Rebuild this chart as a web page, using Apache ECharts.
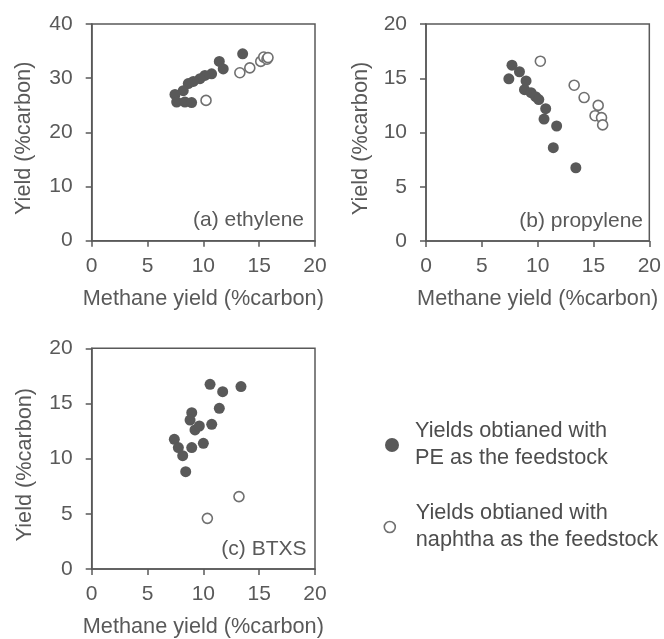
<!DOCTYPE html>
<html>
<head>
<meta charset="utf-8">
<script src="https://cdn.jsdelivr.net/npm/echarts@6/dist/echarts.min.js"></script>
<style>
  html, body { margin: 0; padding: 0; background: #fff; }
  #chart { width: 664px; height: 639px; }
</style>
</head>
<body>
<div id="chart"></div>
<script>
// Methane yield (x) and product yields (y), all in %carbon.
// (a) ethylene
const methanePE_a   = [13.52, 11.43, 11.78, 10.74, 10.14, 9.70, 9.10, 8.65, 8.20, 7.46, 7.61, 8.35, 8.95];
const ethylenePE    = [34.5, 33.1, 31.7, 30.8, 30.5, 29.9, 29.4, 29.0, 27.7, 27.0, 25.6, 25.6, 25.5];
const methaneNap_a  = [10.24, 13.27, 14.16, 15.14, 15.41, 15.70, 15.79];
const ethyleneNap   = [25.9, 31.0, 31.9, 33.1, 33.9, 33.5, 33.8];

// (b) propylene
const methanePE_b   = [7.42, 7.70, 8.37, 8.96, 8.82, 9.41, 9.82, 10.10, 10.72, 10.57, 11.70, 11.40, 13.42];
const propylenePE   = [14.95, 16.2, 15.6, 14.75, 13.95, 13.67, 13.3, 13.03, 12.2, 11.24, 10.6, 8.6, 6.75];
const methaneNap_b  = [10.24, 13.27, 14.16, 15.42, 15.14, 15.72, 15.82];
const propyleneNap  = [16.57, 14.36, 13.22, 12.5, 11.55, 11.37, 10.7];

// (c) BTXS
const methanePE_c   = [7.40, 7.76, 8.15, 8.42, 8.96, 8.81, 8.96, 9.25, 9.64, 10.00, 10.75, 10.60, 11.73, 11.43, 13.37];
const btxsPE        = [11.75, 11.0, 10.27, 8.82, 14.17, 13.5, 11.0, 12.6, 12.96, 11.39, 13.11, 16.74, 16.07, 14.56, 16.53];
const methaneNap_c  = [10.36, 13.19];
const btxsNap       = [4.59, 6.56];

const xTicks = { min: 0, max: 20, interval: 5 };
const yTicksA = { min: 0, max: 40, interval: 10 };
const yTicksBC = { min: 0, max: 20, interval: 5 };

const panelLabels = ['(a) ethylene', '(b) propylene', '(c) BTXS'];
const xTitle = 'Methane yield (%carbon)';
const yTitle = 'Yield (%carbon)';
const legendPE = ['Yields obtianed with', 'PE as the feedstock'];
const legendNap = ['Yields obtianed with', 'naphtha as the feedstock'];

const FONT = "'Liberation Sans', Arial, sans-serif";
const GREY = '#595959';

function pairs(xs, ys) { return xs.map((x, i) => [x, ys[i]]); }

const grids = [
  { left: 91.7, top: 24, width: 223.3, height: 216.7 },
  { left: 426, top: 24, width: 224.7, height: 217 },
  { left: 91.7, top: 348.3, width: 223.3, height: 220.7 }
].map(g => Object.assign(g, { show: true, borderColor: GREY, borderWidth: 1.5, backgroundColor: 'transparent' }));

function xAxis(i) {
  return Object.assign({
    type: 'value', gridIndex: i,
    name: xTitle, nameLocation: 'middle', nameGap: 47,
    nameTextStyle: { fontFamily: FONT, fontSize: 21.7, color: GREY },
    axisLine: { show: true, lineStyle: { color: GREY, width: 1.5 } },
    axisTick: { show: true, inside: false, length: 6, lineStyle: { color: GREY, width: 1.5 } },
    axisLabel: { fontFamily: FONT, fontSize: 21, color: GREY, margin: 15 },
    splitLine: { show: false }
  }, xTicks);
}

function yAxis(i, ticks, gap) {
  return Object.assign({
    type: 'value', gridIndex: i,
    name: yTitle, nameLocation: 'middle', nameGap: gap, nameRotate: 90,
    nameTextStyle: { fontFamily: FONT, fontSize: 21.7, color: GREY, padding: [0, 12, 0, 0] },
    axisLine: { show: true, lineStyle: { color: GREY, width: 1.5 } },
    axisTick: { show: true, inside: false, length: 6, lineStyle: { color: GREY, width: 1.5 } },
    axisLabel: { fontFamily: FONT, fontSize: 21, color: GREY, margin: 19 },
    splitLine: { show: false }
  }, ticks);
}

const filledStyle = { color: GREY, opacity: 1 };
const openStyle = { color: '#ffffff', borderColor: '#707070', borderWidth: 1.6, opacity: 1 };

function peSeries(i, xs, ys) {
  return { name: 'PE', type: 'scatter', xAxisIndex: i, yAxisIndex: i,
    symbol: 'circle', symbolSize: 11, itemStyle: filledStyle, data: pairs(xs, ys), z: 3 };
}
function napSeries(i, xs, ys, size) {
  return { name: 'naphtha', type: 'scatter', xAxisIndex: i, yAxisIndex: i,
    symbol: 'circle', symbolSize: size, itemStyle: openStyle, data: pairs(xs, ys), z: 2 };
}

const legendText = { fontFamily: FONT, fontSize: 21.7, color: '#4d4d4d', lineHeight: 27 };

const option = {
  animation: false,
  backgroundColor: '#ffffff',
  grid: grids,
  xAxis: [xAxis(0), xAxis(1), xAxis(2)],
  yAxis: [yAxis(0, yTicksA, 57), yAxis(1, yTicksBC, 54), yAxis(2, yTicksBC, 56)],
  series: [
    peSeries(0, methanePE_a, ethylenePE),
    napSeries(0, methaneNap_a, ethyleneNap, 10),
    peSeries(1, methanePE_b, propylenePE),
    napSeries(1, methaneNap_b, propyleneNap, 10),
    peSeries(2, methanePE_c, btxsPE),
    napSeries(2, methaneNap_c, btxsNap, 10)
  ],
  legend: [
    {
      data: ['PE'], left: 385, top: 418, padding: 0, orient: 'vertical',
      icon: 'circle', itemWidth: 14, itemHeight: 14,
      itemStyle: filledStyle,
      formatter: () => legendPE.join('\n'),
      textStyle: Object.assign({ padding: [0, 0, 0, 11] }, legendText),
      selectedMode: false
    },
    {
      data: ['naphtha'], left: 383.5, top: 500, padding: 0, orient: 'vertical',
      icon: 'circle', itemWidth: 11, itemHeight: 11,
      itemStyle: openStyle,
      formatter: () => legendNap.join('\n'),
      textStyle: Object.assign({ padding: [0, 0, 0, 15.5] }, legendText),
      selectedMode: false
    }
  ],
  graphic: [
    { type: 'text', x: 304, y: 220, style: { text: panelLabels[0], fontFamily: FONT, fontSize: 21, fill: GREY, textAlign: 'right', textVerticalAlign: 'middle' } },
    { type: 'text', x: 643, y: 221, style: { text: panelLabels[1], fontFamily: FONT, fontSize: 21, fill: GREY, textAlign: 'right', textVerticalAlign: 'middle' } },
    { type: 'text', x: 306.5, y: 549, style: { text: panelLabels[2], fontFamily: FONT, fontSize: 21, fill: GREY, textAlign: 'right', textVerticalAlign: 'middle' } }
  ]
};

const chart = echarts.init(document.getElementById('chart'), null, { renderer: 'canvas' });
chart.setOption(option);
</script>
</body>
</html>
